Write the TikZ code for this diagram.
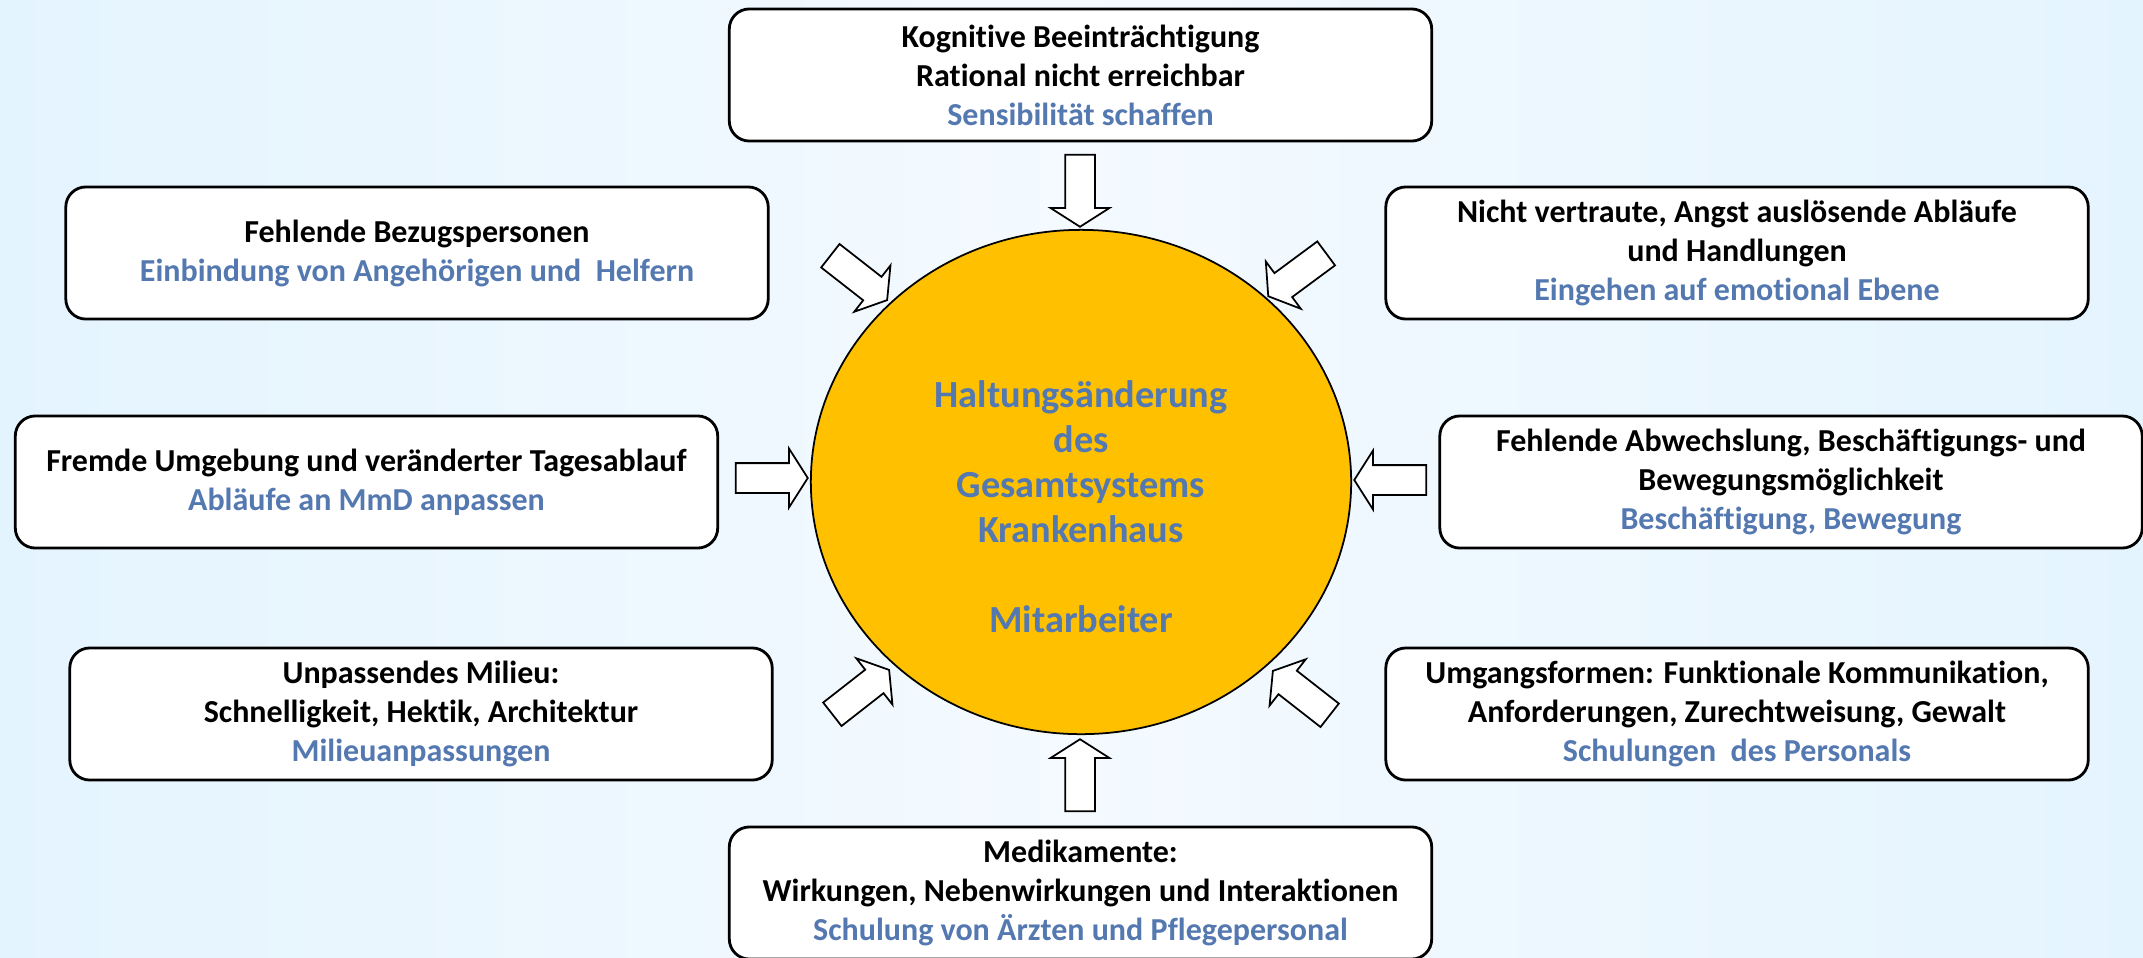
\documentclass[tikz,border=0pt]{standalone}
\usepackage{fontspec}
\setmainfont{Carlito}[Ligatures=NoCommon]
\usetikzlibrary{shapes,shapes.geometric,shapes.arrows,positioning,calc}
\definecolor{hintblau}{RGB}{228,244,254}
\definecolor{hintmitte}{RGB}{244,250,255}
\definecolor{textblau}{RGB}{84,120,176}
\definecolor{kreisgelb}{RGB}{255,192,0}

\begin{document}
\begin{tikzpicture}[x=0.01cm,y=-0.01cm,
    box/.style={rectangle,draw,rounded corners=0.2cm,fill=white,line width=0.8pt,minimum width=7.02cm,minimum height=1.32cm,align=center,inner sep=0pt,font=\fontsize{9.1}{11.1}\selectfont\bfseries},
    hub/.style={ellipse,draw,fill=kreisgelb,line width=0.5pt,minimum width=5.4cm,minimum height=5.04cm,inner sep=0pt},
    hubtext/.style={align=center,text=textblau,font=\fontsize{10.9}{12.8}\selectfont\bfseries},
    blockarrow/.style={single arrow,draw,fill=white,line width=0.5pt,minimum height=0.72cm,inner sep=0.14cm,single arrow head extend=0.145cm,single arrow tip angle=115}
  ]

  \useasboundingbox (0,0) rectangle (2143,957);
  \shade[left color=hintblau,right color=hintblau,middle color=hintmitte] (0,0) rectangle (2143,957);

  % Mitte
  \node[hub] (hub) at (1081,482) {};
  \node[hubtext] (hubtxt) at ([yshift=-0.245cm]hub.center) {Haltungsänderung\\des\\Gesamtsystems\\Krankenhaus\\[12.8pt]Mitarbeiter};

  % Kaesten
  \node[box] (kog) at (1080.5,75) {Kognitive Beeinträchtigung\\Rational nicht erreichbar\\\textcolor{textblau}{Sensibilität schaffen}};
  \node[box] (bez) at (417,253) {Fehlende Bezugspersonen\\\textcolor{textblau}{Einbindung von Angehörigen und~ Helfern}};
  \node[box] (angst) at (1737,253) {Nicht vertraute, Angst auslösende Abläufe\\und Handlungen\\\textcolor{textblau}{Eingehen auf emotional Ebene}};
  \node[box] (umg) at (366.5,482) {Fremde Umgebung und veränderter Tagesablauf\\\textcolor{textblau}{Abläufe an MmD anpassen}};
  \node[box] (abw) at (1791,482) {Fehlende Abwechslung, Beschäftigungs- und\\Bewegungsmöglichkeit\\\textcolor{textblau}{Beschäftigung, Bewegung}};
  \node[box] (mil) at (421,714) {Unpassendes Milieu:\\Schnelligkeit, Hektik, Architektur\\\textcolor{textblau}{Milieuanpassungen}};
  \node[box] (form) at (1737,714) {Umgangsformen: Funktionale Kommunikation,\\Anforderungen, Zurechtweisung, Gewalt\\\textcolor{textblau}{Schulungen~ des Personals}};
  \node[box] (med) at (1080.5,893) {Medikamente:\\Wirkungen, Nebenwirkungen und Interaktionen\\\textcolor{textblau}{Schulung von Ärzten und Pflegepersonal}};

  % Pfeile zur Mitte
  \node[blockarrow,rotate=-90] (pkog) at (1080,186) {};
  \node[blockarrow,rotate=-38] (pbez) at (855,275) {};
  \node[blockarrow,rotate=-143.5] (pangst) at (1301,272) {};
  \node[blockarrow] (pumg) at (767,478) {};
  \node[blockarrow,rotate=180] (pabw) at (1395,480) {};
  \node[blockarrow,rotate=38] (pmil) at (857,695) {};
  \node[blockarrow,rotate=142] (pform) at (1305,696) {};
  \node[blockarrow,rotate=90] (pmed) at (1080,780) {};

\end{tikzpicture}
\end{document}
